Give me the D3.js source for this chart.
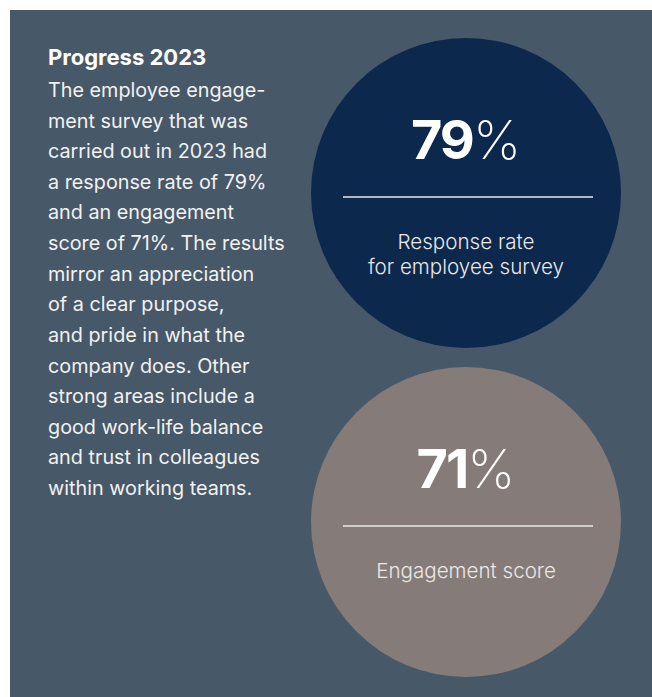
<!DOCTYPE html>
<html>
<head>
<meta charset="utf-8">
<script src="https://cdn.jsdelivr.net/npm/d3@7"></script>
<style>
  html, body { margin: 0; padding: 0; background: #ffffff; }
  svg { display: block; }
</style>
</head>
<body>
<div id="chart"></div>
<script>
// Survey results shown as two equal discs
const metrics = ["Response rate", "Engagement score"];
const values = [79, 71];
const captions = [["Response rate", "for employee survey"], ["Engagement score"]];
const discColors = ["#0d284d", "#857b78"];

// Side text block
const heading = "Progress 2023";
const bodyLines = [
  "The employee engage-",
  "ment survey that was",
  "carried out in 2023 had",
  "a response rate of 79%",
  "and an engagement",
  "score of 71%. The results",
  "mirror an appreciation",
  "of a clear purpose,",
  "and pride in what the",
  "company does. Other",
  "strong areas include a",
  "good work-life balance",
  "and trust in colleagues",
  "within working teams."
];

const W = 652, H = 697;
const font = "Inter, 'Noto Sans', sans-serif";

const svg = d3.select("#chart").append("svg")
  .attr("width", W).attr("height", H);

// panel
svg.append("rect")
  .attr("x", 10).attr("y", 10)
  .attr("width", W - 10).attr("height", H - 10)
  .attr("fill", "#475869");

// text column
const textX = 48;
svg.append("text")
  .attr("x", textX).attr("y", 65)
  .attr("fill", "#ffffff")
  .attr("font-family", font)
  .attr("font-weight", 700)
  .attr("font-size", 22)
  .text(heading);

const lineY = d3.scaleLinear().domain([0, bodyLines.length - 1]).range([97, 495]);
svg.append("g").selectAll("text")
  .data(bodyLines)
  .join("text")
  .attr("x", textX)
  .attr("y", (d, i) => lineY(i))
  .attr("fill", "#f2f2f0")
  .attr("font-family", font)
  .attr("font-size", 19.8)
  .text(d => d);

// discs
const cx = 466, r = 155;
const yPos = d3.scalePoint().domain(metrics).range([193, 522]);

const disc = svg.append("g").selectAll("g")
  .data(metrics.map((m, i) => ({ m, v: values[i], cap: captions[i], c: discColors[i] })))
  .join("g")
  .attr("transform", d => `translate(${cx},${yPos(d.m)})`);

disc.append("circle")
  .attr("r", r)
  .attr("fill", d => d.c);

const big = disc.append("text")
  .attr("x", 0)
  .attr("y", -34)
  .attr("text-anchor", "middle")
  .attr("fill", "#ffffff")
  .attr("font-family", font);
big.append("tspan")
  .attr("font-weight", 700)
  .attr("font-size", 54)
  .attr("letter-spacing", -2)
  .text(d => d.v);
big.append("tspan")
  .attr("font-weight", 200)
  .attr("font-size", 54)
  .text("%");

disc.append("line")
  .attr("x1", -123).attr("x2", 127)
  .attr("y1", 4).attr("y2", 4)
  .attr("stroke", "#e8e8e8")
  .attr("stroke-width", 1.5);

disc.each(function(d) {
  d3.select(this).selectAll("text.cap")
    .data(d.cap)
    .join("text")
    .attr("class", "cap")
    .attr("x", 0)
    .attr("y", (c, i) => 56 + i * 25)
    .attr("text-anchor", "middle")
    .attr("fill", "#ebe8e6")
    .attr("font-family", font)
    .attr("font-weight", 300)
    .attr("font-size", 20.6)
    .text(c => c);
});
</script>
</body>
</html>
